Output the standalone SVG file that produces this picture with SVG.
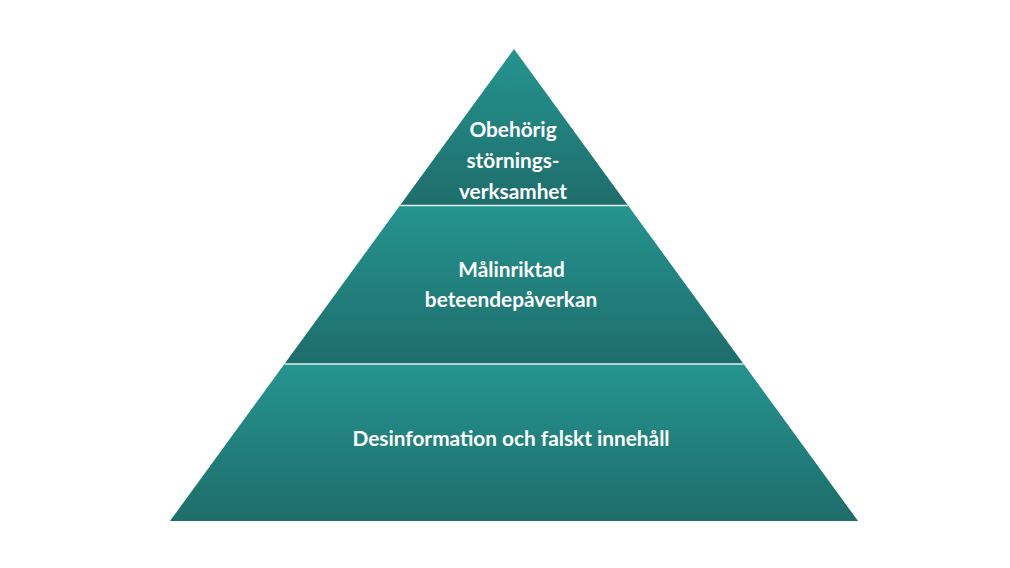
<svg xmlns="http://www.w3.org/2000/svg" width="1010" height="568" viewBox="0 0 1010 568">
  <defs>
    <linearGradient id="g1" x1="0" y1="0" x2="0" y2="1">
      <stop offset="0" stop-color="#25948f"/>
      <stop offset="1" stop-color="#1e6d6b"/>
    </linearGradient>
    <style>
      .lbl{font-family:Lato,"Liberation Sans",sans-serif;font-weight:bold;font-size:20.8px;fill:#ffffff;text-anchor:middle}
      .sep{stroke:#dff2ef;stroke-width:1.3}
    </style>
  </defs>
  <rect width="1010" height="568" fill="#ffffff"/>
  <g id="layer-top">
    <polygon points="514,49 627.7,205 400.3,205" fill="url(#g1)"/>
    <text class="lbl" x="513" y="137">Obehörig</text>
    <text class="lbl" x="513" y="168">störnings-</text>
    <text class="lbl" x="513" y="199">verksamhet</text>
  </g>
  <g id="layer-middle">
    <polygon points="400.3,205 627.7,205 743.6,364 284.4,364" fill="url(#g1)"/>
    <text class="lbl" x="511.5" y="277">Målinriktad</text>
    <text class="lbl" x="511" y="307">beteendepåverkan</text>
  </g>
  <g id="layer-bottom">
    <polygon points="284.4,364 743.6,364 858,521 170,521" fill="url(#g1)"/>
    <text class="lbl" x="511" y="446">Desinformation och falskt innehåll</text>
  </g>
  <g id="connectors">
    <line class="sep" x1="400.3" y1="205.5" x2="627.7" y2="205.5"/>
    <line class="sep" x1="284.4" y1="364" x2="743.6" y2="364"/>
  </g>
</svg>
